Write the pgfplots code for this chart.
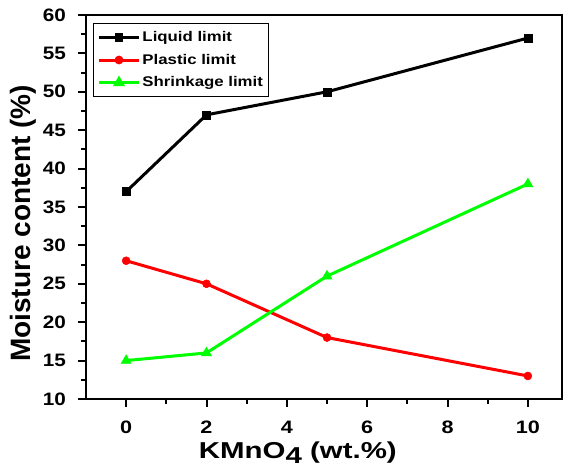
\documentclass[border=0pt]{standalone}
\usepackage{fontspec}
\setmainfont{Liberation Sans}
\usepackage{graphicx}
\usepackage{pgfplots}
\pgfplotsset{compat=1.18}
\definecolor{myred}{RGB}{255,0,0}
\definecolor{mygreen}{RGB}{0,255,0}
\newcommand\hs[2]{\scalebox{#1}[1]{#2}}
\begin{document}
\begin{tikzpicture}
\begin{axis}[
  scale only axis,
  width=476pt, height=384pt,
  xmin=-1, xmax=10.85, ymin=10, ymax=60,
  xtick={0,2,4,6,8,10}, ytick={10,15,...,60},
  minor x tick num=1, minor y tick num=1,
  tick align=outside,
  xtick pos=bottom, ytick pos=left,
  major tick length=8pt, minor tick length=5pt,
  every tick/.style={line width=2pt, black},
  axis line style={line width=2.8pt},
  /pgf/number format/assume math mode=true,
  ticklabel style={font=\fontsize{18}{20}\selectfont\bfseries, inner sep=0pt},
  xticklabel={\hs{1.2}{\pgfmathprintnumber{\tick}}},
  yticklabel={\hs{1.15}{\pgfmathprintnumber{\tick}}},
  xticklabel style={anchor=north, yshift=-14pt},
  yticklabel style={anchor=east, xshift=-12pt},
  xlabel={\hs{1.28}{KMnO\raisebox{-5pt}{4} (wt.\%)}},
  ylabel={Moisture content (\%)},
  xlabel style={font=\fontsize{23}{25}\selectfont\bfseries, at={(axis description cs:0.445,-0.154)}, anchor=base, inner sep=0pt},
  ylabel style={font=\fontsize{28}{30}\selectfont\bfseries, at={(axis description cs:-0.1176,0.457)}, anchor=base, inner sep=0pt},
  legend style={at={(0.0147,0.979)}, anchor=north west, font=\fontsize{14}{16}\selectfont\bfseries, draw=black, line width=1pt, inner xsep=4pt, inner ysep=6pt, row sep=7pt},
  legend cell align=left,
  legend image code/.code={\draw[#1] (0pt,0pt) -- (40pt,0pt); \draw[#1, mark repeat=2, mark phase=2, mark options={scale=0.7}] plot coordinates {(0pt,0pt) (20pt,0pt) (40pt,0pt)};},
]
\addplot[black, line width=3pt, mark=square*, mark size=4pt, mark options={line width=0.5pt}] coordinates {(0,37) (2,47) (5,50) (10,57)};
\addlegendentry{\hs{1.2}{Liquid limit}}
\addplot[myred, line width=3pt, mark=*, mark size=4pt, mark options={line width=0.5pt}] coordinates {(0,28) (2,25) (5,18) (10,13)};
\addlegendentry{\hs{1.2}{Plastic limit}}
\addplot[mygreen, line width=3pt, mark=triangle*, mark size=5.8pt, mark options={line width=0.5pt}] coordinates {(0,15) (2,16) (5,26) (10,38)};
\addlegendentry{\hs{1.2}{Shrinkage limit}}
\end{axis}
\pgfresetboundingbox
\path (current axis.south west) +(-86pt,-71pt) (current axis.north east) +(3pt,15pt);
\end{tikzpicture}
\end{document}
